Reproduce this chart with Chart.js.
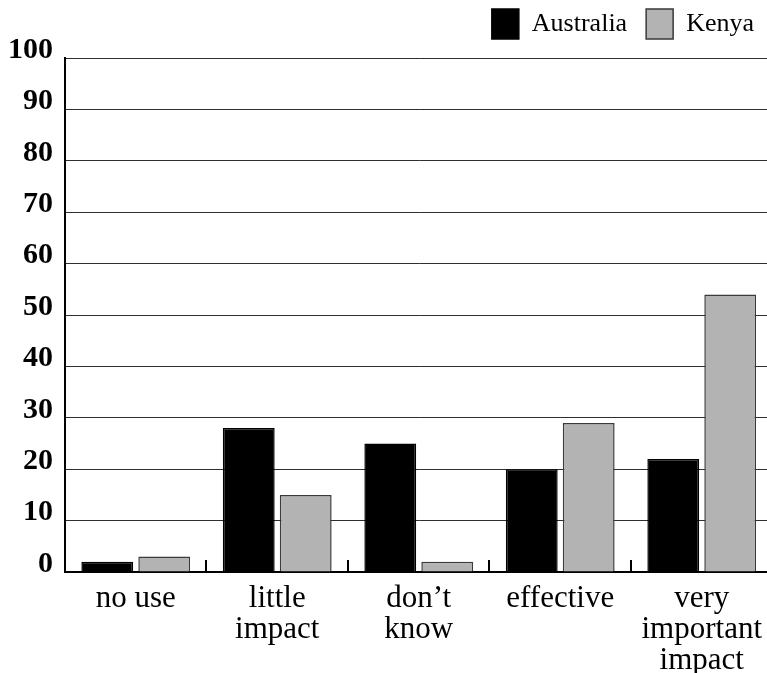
<!DOCTYPE html>
<html>
<head>
<meta charset="utf-8">
<script src="https://cdn.jsdelivr.net/npm/chart.js@4/dist/chart.umd.min.js"></script>
<style>
  html, body { margin: 0; padding: 0; background: #fff; overflow: hidden; }
  #wrap { width: 773px; height: 673px; }
</style>
</head>
<body>
<div id="wrap"><canvas id="chart" width="773" height="673"></canvas></div>
<script>
// Response categories (multi-line labels)
const categories = [
  ['no use'],
  ['little', 'impact'],
  ['don\u2019t', 'know'],
  ['effective'],
  ['very', 'important', 'impact']
];
// Percentage of respondents per category
const australia = [2, 28, 25, 20, 22];
const kenya = [3, 15, 2, 29, 54];
// Y axis range
const yMin = 0;
const yMax = 100;
const yStep = 10;

const serif = '"Liberation Serif", "Times New Roman", serif';

// Short upward tick marks between categories on the x axis
const categoryTicks = {
  id: 'categoryTicks',
  afterDatasetsDraw(chart) {
    const xs = chart.scales.x;
    const bottom = chart.chartArea.bottom;
    const ctx = chart.ctx;
    ctx.save();
    ctx.strokeStyle = '#000';
    ctx.lineWidth = 2;
    for (let i = 0; i < categories.length - 1; i++) {
      const px = Math.round((xs.getPixelForValue(i) + xs.getPixelForValue(i + 1)) / 2);
      ctx.beginPath();
      ctx.moveTo(px, bottom);
      ctx.lineTo(px, bottom - 12);
      ctx.stroke();
    }
    ctx.restore();
  }
};

new Chart(document.getElementById('chart'), {
  type: 'bar',
  data: {
    labels: categories,
    datasets: [
      {
        label: 'Australia',
        data: australia,
        backgroundColor: '#000000',
        borderColor: '#000000',
        borderWidth: 1.5
      },
      {
        label: 'Kenya',
        data: kenya,
        backgroundColor: '#b3b3b3',
        borderColor: '#3a3a3a',
        borderWidth: 1.5
      }
    ]
  },
  options: {
    responsive: false,
    devicePixelRatio: 1,
    animation: false,
    categoryPercentage: 0.805,
    barPercentage: 0.91,
    layout: { padding: { top: -10, left: 0, right: 0, bottom: 0 } },
    plugins: {
      tooltip: { enabled: false },
      legend: {
        position: 'top',
        align: 'end',
        labels: {
          boxWidth: 27,
          boxHeight: 30,
          padding: 19,
          color: '#000',
          font: { family: serif, size: 26 }
        }
      },
      // empty spacer between the legend and the plot area
      subtitle: {
        display: true,
        text: '',
        weight: 500,
        padding: 0,
        font: { size: 9, lineHeight: 1 }
      }
    },
    scales: {
      x: {
        grid: { display: false, drawTicks: false },
        border: { display: true, color: '#000', width: 2 },
        ticks: {
          color: '#000',
          padding: 11,
          maxRotation: 0,
          autoSkip: false,
          font: { family: serif, size: 31, lineHeight: 1.0 }
        },
        afterFit(scale) { scale.height = 101; }
      },
      y: {
        min: yMin,
        max: yMax,
        grid: { color: '#2e2e2e', lineWidth: 1, drawTicks: false },
        border: { display: true, color: '#000', width: 2 },
        ticks: {
          stepSize: yStep,
          color: '#000',
          padding: 12,
          labelOffset: -8,
          font: { family: serif, size: 30, weight: 'bold' }
        },
        afterFit(scale) { scale.width = 65; }
      }
    }
  },
  plugins: [categoryTicks]
});
</script>
</body>
</html>
